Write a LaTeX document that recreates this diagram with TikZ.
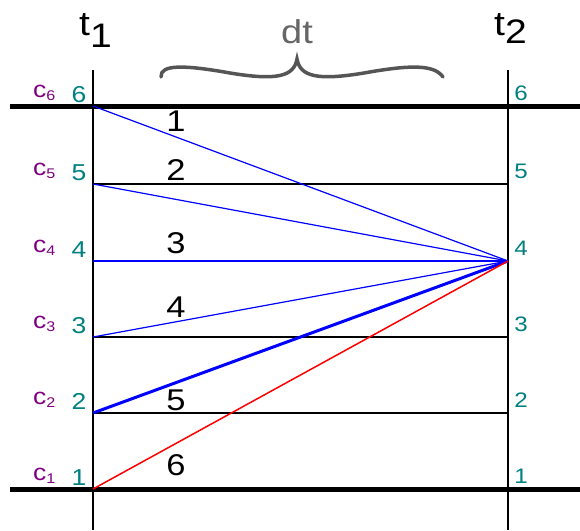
\documentclass[tikz,border=0pt]{standalone}
\usepackage{fontspec}
\setmainfont{Liberation Sans}
\definecolor{tealc}{HTML}{008080}
\definecolor{purplec}{HTML}{800080}
\definecolor{greyc}{HTML}{666666}
\definecolor{bracec}{HTML}{555555}
\newcommand{\stretchtxt}[1]{\scalebox{1.15}[1]{#1}}
\begin{document}
\begin{tikzpicture}[x=1pt,y=-1pt,
  every node/.style={inner sep=0pt},
  thickline/.style={line width=5pt},
  thinline/.style={line width=1.8pt},
  vline/.style={line width=2pt},
  ray/.style={blue,line width=1.2pt},
  midray/.style={blue,line width=2pt},
  boldray/.style={blue,line width=3pt},
  redray/.style={red,line width=1.5pt},
  bracestyle/.style={bracec,line width=3.5pt,line cap=round},
  bignum/.style={anchor=base,font=\fontsize{30}{30}\selectfont},
  leftnum/.style={anchor=base,text=tealc,font=\fontsize{23}{23}\selectfont},
  rightnum/.style={anchor=base,text=tealc,font=\fontsize{21}{21}\selectfont},
  clabel/.style={anchor=base west,text=purplec,font=\fontsize{23}{23}\selectfont},
  tlabel/.style={anchor=base west,font=\fontsize{34}{34}\selectfont}]
\useasboundingbox (0,0) rectangle (580,530);
% row coordinates
\foreach \i/\y in {1/489,2/413,3/337,4/261,5/184,6/106}{
  \coordinate (L\i) at (93,\y);
  \coordinate (R\i) at (508,\y);
}
\coordinate (A1) at (10,489); \coordinate (B1) at (580,489);
\coordinate (A6) at (10,106); \coordinate (B6) at (580,106);
\coordinate (T1) at (93,70); \coordinate (U1) at (93,530);
\coordinate (T2) at (508,70); \coordinate (U2) at (508,530);
% thin horizontal lines
\foreach \i in {2,3,4,5}{ \draw[thinline] (L\i) -- (R\i); }
% thick lines
\draw[thickline] (A1) -- (B1);
\draw[thickline] (A6) -- (B6);
% vertical lines
\draw[vline] (T1) -- (U1);
\draw[vline] (T2) -- (U2);
% rays
\draw[ray] (L6) -- (R4);
\draw[ray] (L5) -- (R4);
\draw[midray] (L4) -- (R4);
\draw[ray] (L3) -- (R4);
\draw[boldray] (L2) -- (R4);
\draw[redray] (L1) -- (R4);
% labels
\foreach \i/\y in {1/489,2/413,3/337,4/261,5/184,6/106}{
  \node[leftnum] (ln\i) at (79,{\y-4}) {\stretchtxt{\i}};
  \node[rightnum] (rn\i) at (521,{\y-6}) {\stretchtxt{\i}};
  \node[clabel] (cl\i) at (33,{\y-9}) {\stretchtxt{c{\fontsize{14}{14}\selectfont\raisebox{-3pt}{\i}}}};
}
\foreach \i/\y in {1/131,2/180,3/253,4/317,5/410,6/475}{
  \node[bignum] (bn\i) at (176,\y) {\stretchtxt{\i}};
}
\node[tlabel] (t1) at (79,35) {\stretchtxt{t\raisebox{-12pt}{1}}};
\node[tlabel] (t2) at (494,35) {\stretchtxt{t\raisebox{-8pt}{2}}};
\node[anchor=base,text=greyc,font=\fontsize{33}{33}\selectfont] (dt) at (297,43) {\stretchtxt{dt}};
% brace
\draw[bracestyle] (161,77) .. controls (160,64) and (185,65) .. (230,73)
  .. controls (278,81) and (294,76) .. (297,59)
  .. controls (300,76) and (316,81) .. (364,73)
  .. controls (409,65) and (434,64) .. (443,77);
\end{tikzpicture}
\end{document}
